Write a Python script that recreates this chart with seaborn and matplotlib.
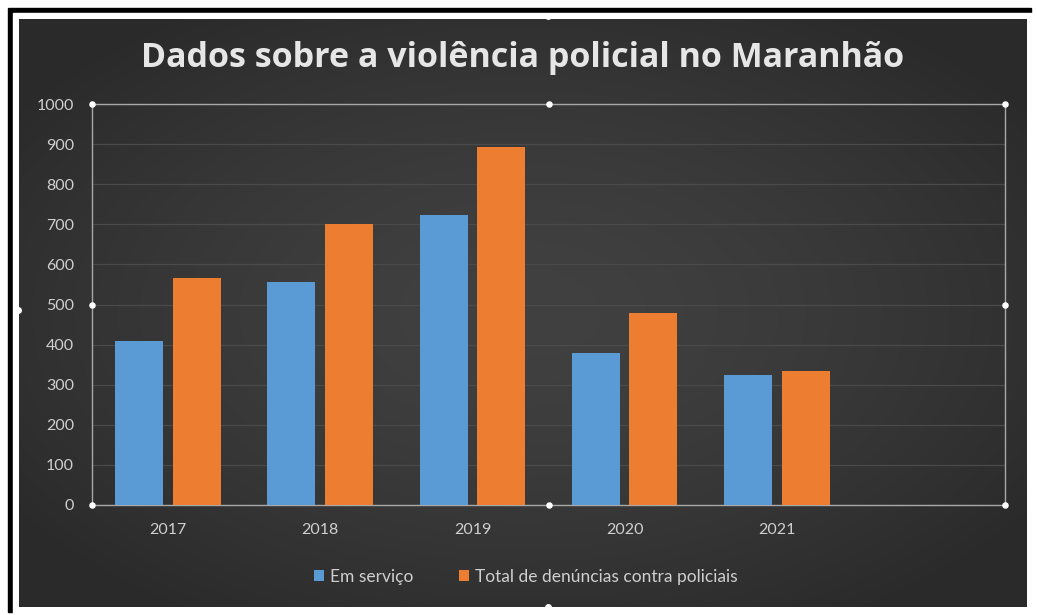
import numpy as np
import pandas as pd
import matplotlib
matplotlib.use("Agg")
import matplotlib.pyplot as plt
from matplotlib.patches import Rectangle
from matplotlib.lines import Line2D
import seaborn as sns

# Data
anos = ["2017", "2018", "2019", "2020", "2021"]
em_servico = [409, 557, 724, 379, 324]
total_denuncias = [566, 700, 894, 480, 335]
series = ["Em serviço", "Total de denúncias contra policiais"]
y_ticks = list(range(0, 1001, 100))
titulo = "Dados sobre a violência policial no Maranhão"

df = pd.DataFrame({
    "ano": anos * 2,
    "serie": [series[0]] * len(anos) + [series[1]] * len(anos),
    "valor": em_servico + total_denuncias,
})

sns.set_theme(style="dark")
plt.rcParams["font.family"] = ["Lato", "DejaVu Sans"]

W, H = 1037, 615
fig = plt.figure(figsize=(W / 100, H / 100), dpi=100, facecolor="white")


def fx(px):
    return px / W


def fy(py):
    return 1 - py / H


def fig_rect(x0, y0, x1, y1, color, z):
    fig.patches.append(Rectangle((fx(x0), fy(y1)), fx(x1) - fx(x0), fy(y0) - fy(y1),
                                 transform=fig.transFigure, color=color, zorder=z))


# Offset frame: black edge on top and left, thin white mat, then the dark panel
fig_rect(8, 8, 1031, 612, "black", -20)
fig_rect(13, 13, 1037, 615, "white", -19)

bg = fig.add_axes([fx(19), fy(607), fx(1027) - fx(19), fy(19) - fy(607)], zorder=-5)
bg.set_axis_off()
yy, xx = np.mgrid[0:1:200j, 0:1:340j]
r = np.sqrt(((xx - 0.5) / 0.62) ** 2 + ((yy - 0.5) / 0.62) ** 2)
shade = 0.255 - (0.255 - 0.165) * np.clip(r, 0, 1) ** 1.5
bg.imshow(np.dstack([shade, shade, shade]), aspect="auto", extent=(0, 1, 0, 1),
          interpolation="bilinear")
bg.set_xlim(0, 1)
bg.set_ylim(0, 1)

# Plot area
ax = fig.add_axes([fx(92), fy(505), fx(1005) - fx(92), fy(104) - fy(505)], zorder=1)
ax.set_facecolor("none")

blue, orange = "#5b9bd5", "#ed7d31"
sns.barplot(data=df, x="ano", y="valor", hue="serie", palette=[blue, orange],
            width=0.76, gap=0.17, saturation=1, linewidth=0, ax=ax, zorder=3)

handles, labels = ax.get_legend_handles_labels()
if ax.get_legend() is not None:
    ax.get_legend().remove()

ax.set_xlim(-0.5, 5.5)
ax.set_ylim(0, 1000)
ax.set_yticks(y_ticks)
ax.set_xlabel("")
ax.set_ylabel("")
ax.yaxis.grid(True, color="#4a4a4a", linewidth=0.9, zorder=0)
ax.xaxis.grid(False)
for s in ax.spines.values():
    s.set_visible(True)
    s.set_color("#a8a8a8")
    s.set_linewidth(1.0)
ax.tick_params(axis="both", length=0, labelcolor="#cfcfcf", labelsize=11.5)
ax.tick_params(axis="y", pad=13)
ax.tick_params(axis="x", pad=13)

# Selection handles on the plot area
hx = [0, 0.5, 1, 0, 1, 0, 0.5, 1]
hy = [1, 1, 1, 0.5, 0.5, 0, 0, 0]
ax.scatter(hx, hy, transform=ax.transAxes, s=22, c="white", clip_on=False, zorder=6,
           linewidths=0)

# Selection handles on the chart border
for px, py in [(548, 16), (548, 607), (18, 310), (1030, 310)]:
    fig.add_artist(Line2D([fx(px)], [fy(py)], marker="o", markersize=5,
                          color="white", markeredgewidth=0, transform=fig.transFigure,
                          zorder=10))

fig.text(fx(523), fy(58), titulo, ha="center", va="center", fontsize=24.5,
         fontweight="bold", color="#e6e6e6", family=["Open Sans", "DejaVu Sans"],
         zorder=10)

fig.legend(handles, labels, loc="center", bbox_to_anchor=(fx(526), fy(577)), ncol=2,
           frameon=False, fontsize=12.5, labelcolor="#cfcfcf", handlelength=0.6,
           handleheight=0.6, handletextpad=0.35, columnspacing=2.6)

fig.savefig("out.png", dpi=100, facecolor="white")
